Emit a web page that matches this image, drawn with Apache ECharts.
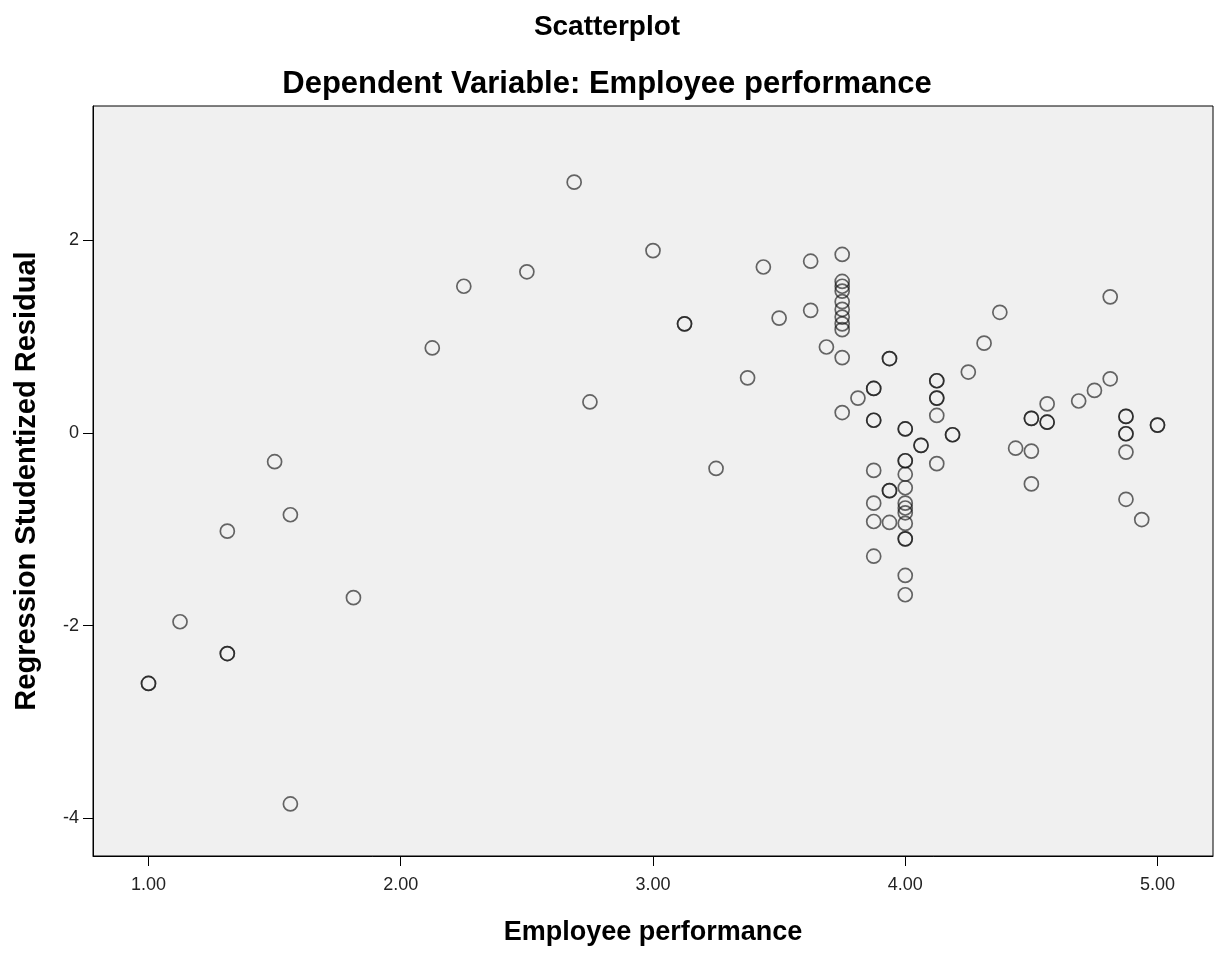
<!DOCTYPE html>
<html>
<head>
<meta charset="utf-8">
<script src="https://cdn.jsdelivr.net/npm/echarts@6/dist/echarts.min.js"></script>
<style>
  html, body { margin: 0; padding: 0; background: #ffffff; }
  #chart { width: 1214px; height: 953px; }
</style>
</head>
<body>
<div id="chart"></div>
<script>
// Employee performance (x) and Regression Studentized Residual (y)
const xPerf = [
  1.00, 1.00, 1.125, 1.3125, 1.3125, 1.3125, 1.50, 1.5625, 1.5625, 1.8125,
  2.125, 2.25, 2.50, 2.6875, 2.75, 3.00, 3.125, 3.125, 3.25, 3.375,
  3.4375, 3.50, 3.625, 3.625, 3.6875,
  3.75, 3.75, 3.75, 3.75, 3.75, 3.75, 3.75, 3.75, 3.75, 3.75, 3.75,
  3.8125,
  3.875, 3.875, 3.875, 3.875, 3.875, 3.875, 3.875, 3.875,
  3.9375, 3.9375, 3.9375, 3.9375, 3.9375,
  4.00, 4.00, 4.00, 4.00, 4.00, 4.00, 4.00, 4.00, 4.00, 4.00, 4.00, 4.00, 4.00, 4.00,
  4.0625, 4.0625,
  4.125, 4.125, 4.125, 4.125, 4.125, 4.125,
  4.1875, 4.1875, 4.25, 4.3125, 4.375, 4.4375,
  4.50, 4.50, 4.50, 4.50,
  4.5625, 4.5625, 4.5625, 4.6875, 4.75, 4.8125, 4.8125,
  4.875, 4.875, 4.875, 4.875, 4.875, 4.875, 4.9375, 5.00, 5.00
];
const yResid = [
  -2.60, -2.60, -1.96, -1.02, -2.29, -2.29, -0.30, -0.85, -3.85, -1.71,
  0.88, 1.52, 1.67, 2.60, 0.32, 1.89, 1.13, 1.13, -0.37, 0.57,
  1.72, 1.19, 1.78, 1.27, 0.89,
  1.85, 1.57, 1.52, 1.47, 1.36, 1.28, 1.20, 1.13, 1.07, 0.78, 0.21,
  0.36,
  0.46, 0.46, 0.13, 0.13, -0.39, -0.73, -0.92, -1.28,
  0.77, 0.77, -0.60, -0.60, -0.93,
  0.04, 0.04, -0.29, -0.29, -0.43, -0.57, -0.73, -0.78, -0.83, -0.94, -1.10, -1.10, -1.48, -1.68,
  -0.13, -0.13,
  0.54, 0.54, 0.36, 0.36, 0.18, -0.32,
  -0.02, -0.02, 0.63, 0.93, 1.25, -0.16,
  0.15, 0.15, -0.19, -0.53,
  0.30, 0.11, 0.11, 0.33, 0.44, 1.41, 0.56,
  0.17, 0.17, -0.01, -0.01, -0.20, -0.69, -0.90, 0.08, 0.08
];
const xTicks = [1, 2, 3, 4, 5];
const yTicks = [-4, -2, 0, 2];

const points = xPerf.map((x, i) => [x, yResid[i]]);

const chart = echarts.init(document.getElementById('chart'), null, { renderer: 'canvas' });
const fontFam = '"Liberation Sans", Arial, sans-serif';
chart.setOption({
  backgroundColor: '#ffffff',
  animation: false,
  title: [
    { text: 'Scatterplot', left: 'center', top: 8,
      textStyle: { fontFamily: fontFam, fontSize: 28, fontWeight: 'bold', color: '#000' } },
    { text: 'Dependent Variable: Employee performance', left: 'center', top: 64,
      textStyle: { fontFamily: fontFam, fontSize: 31, fontWeight: 'bold', color: '#000' } }
  ],
  grid: {
    left: 93, right: 1, top: 106, bottom: 97,
    show: true, backgroundColor: '#f0f0f0', borderColor: '#000', borderWidth: 1
  },
  xAxis: {
    type: 'value', min: 0.78, max: 5.22,
    name: 'Employee performance', nameLocation: 'middle', nameGap: 63,
    nameTextStyle: { fontFamily: fontFam, fontSize: 27, fontWeight: 'bold', color: '#000' },
    axisLine: { show: true, onZero: false, lineStyle: { color: '#000', width: 1 } },
    axisTick: { show: true, inside: false, length: 10, customValues: xTicks, lineStyle: { color: '#000' } },
    axisLabel: { show: true, customValues: xTicks, margin: 20, fontFamily: fontFam, fontSize: 18, color: '#222',
      formatter: v => v.toFixed(2) },
    splitLine: { show: false }
  },
  yAxis: {
    type: 'value', min: -4.39, max: 3.39,
    name: 'Regression Studentized Residual', nameLocation: 'middle', nameGap: 52, nameRotate: 90,
    nameTextStyle: { fontFamily: fontFam, fontSize: 29, fontWeight: 'bold', color: '#000' },
    axisLine: { show: true, onZero: false, lineStyle: { color: '#000', width: 1 } },
    axisTick: { show: true, inside: false, length: 10, customValues: yTicks, lineStyle: { color: '#000' } },
    axisLabel: { show: true, customValues: yTicks, margin: 14, fontFamily: fontFam, fontSize: 18, color: '#222',
      formatter: v => String(v) },
    splitLine: { show: false }
  },
  series: [{
    type: 'scatter',
    data: points,
    symbol: 'circle',
    symbolSize: 14,
    itemStyle: { color: 'rgba(0,0,0,0)', borderColor: 'rgba(15,15,15,0.78)', borderWidth: 1.7 },
    emphasis: { disabled: true }
  }]
});
</script>
</body>
</html>
